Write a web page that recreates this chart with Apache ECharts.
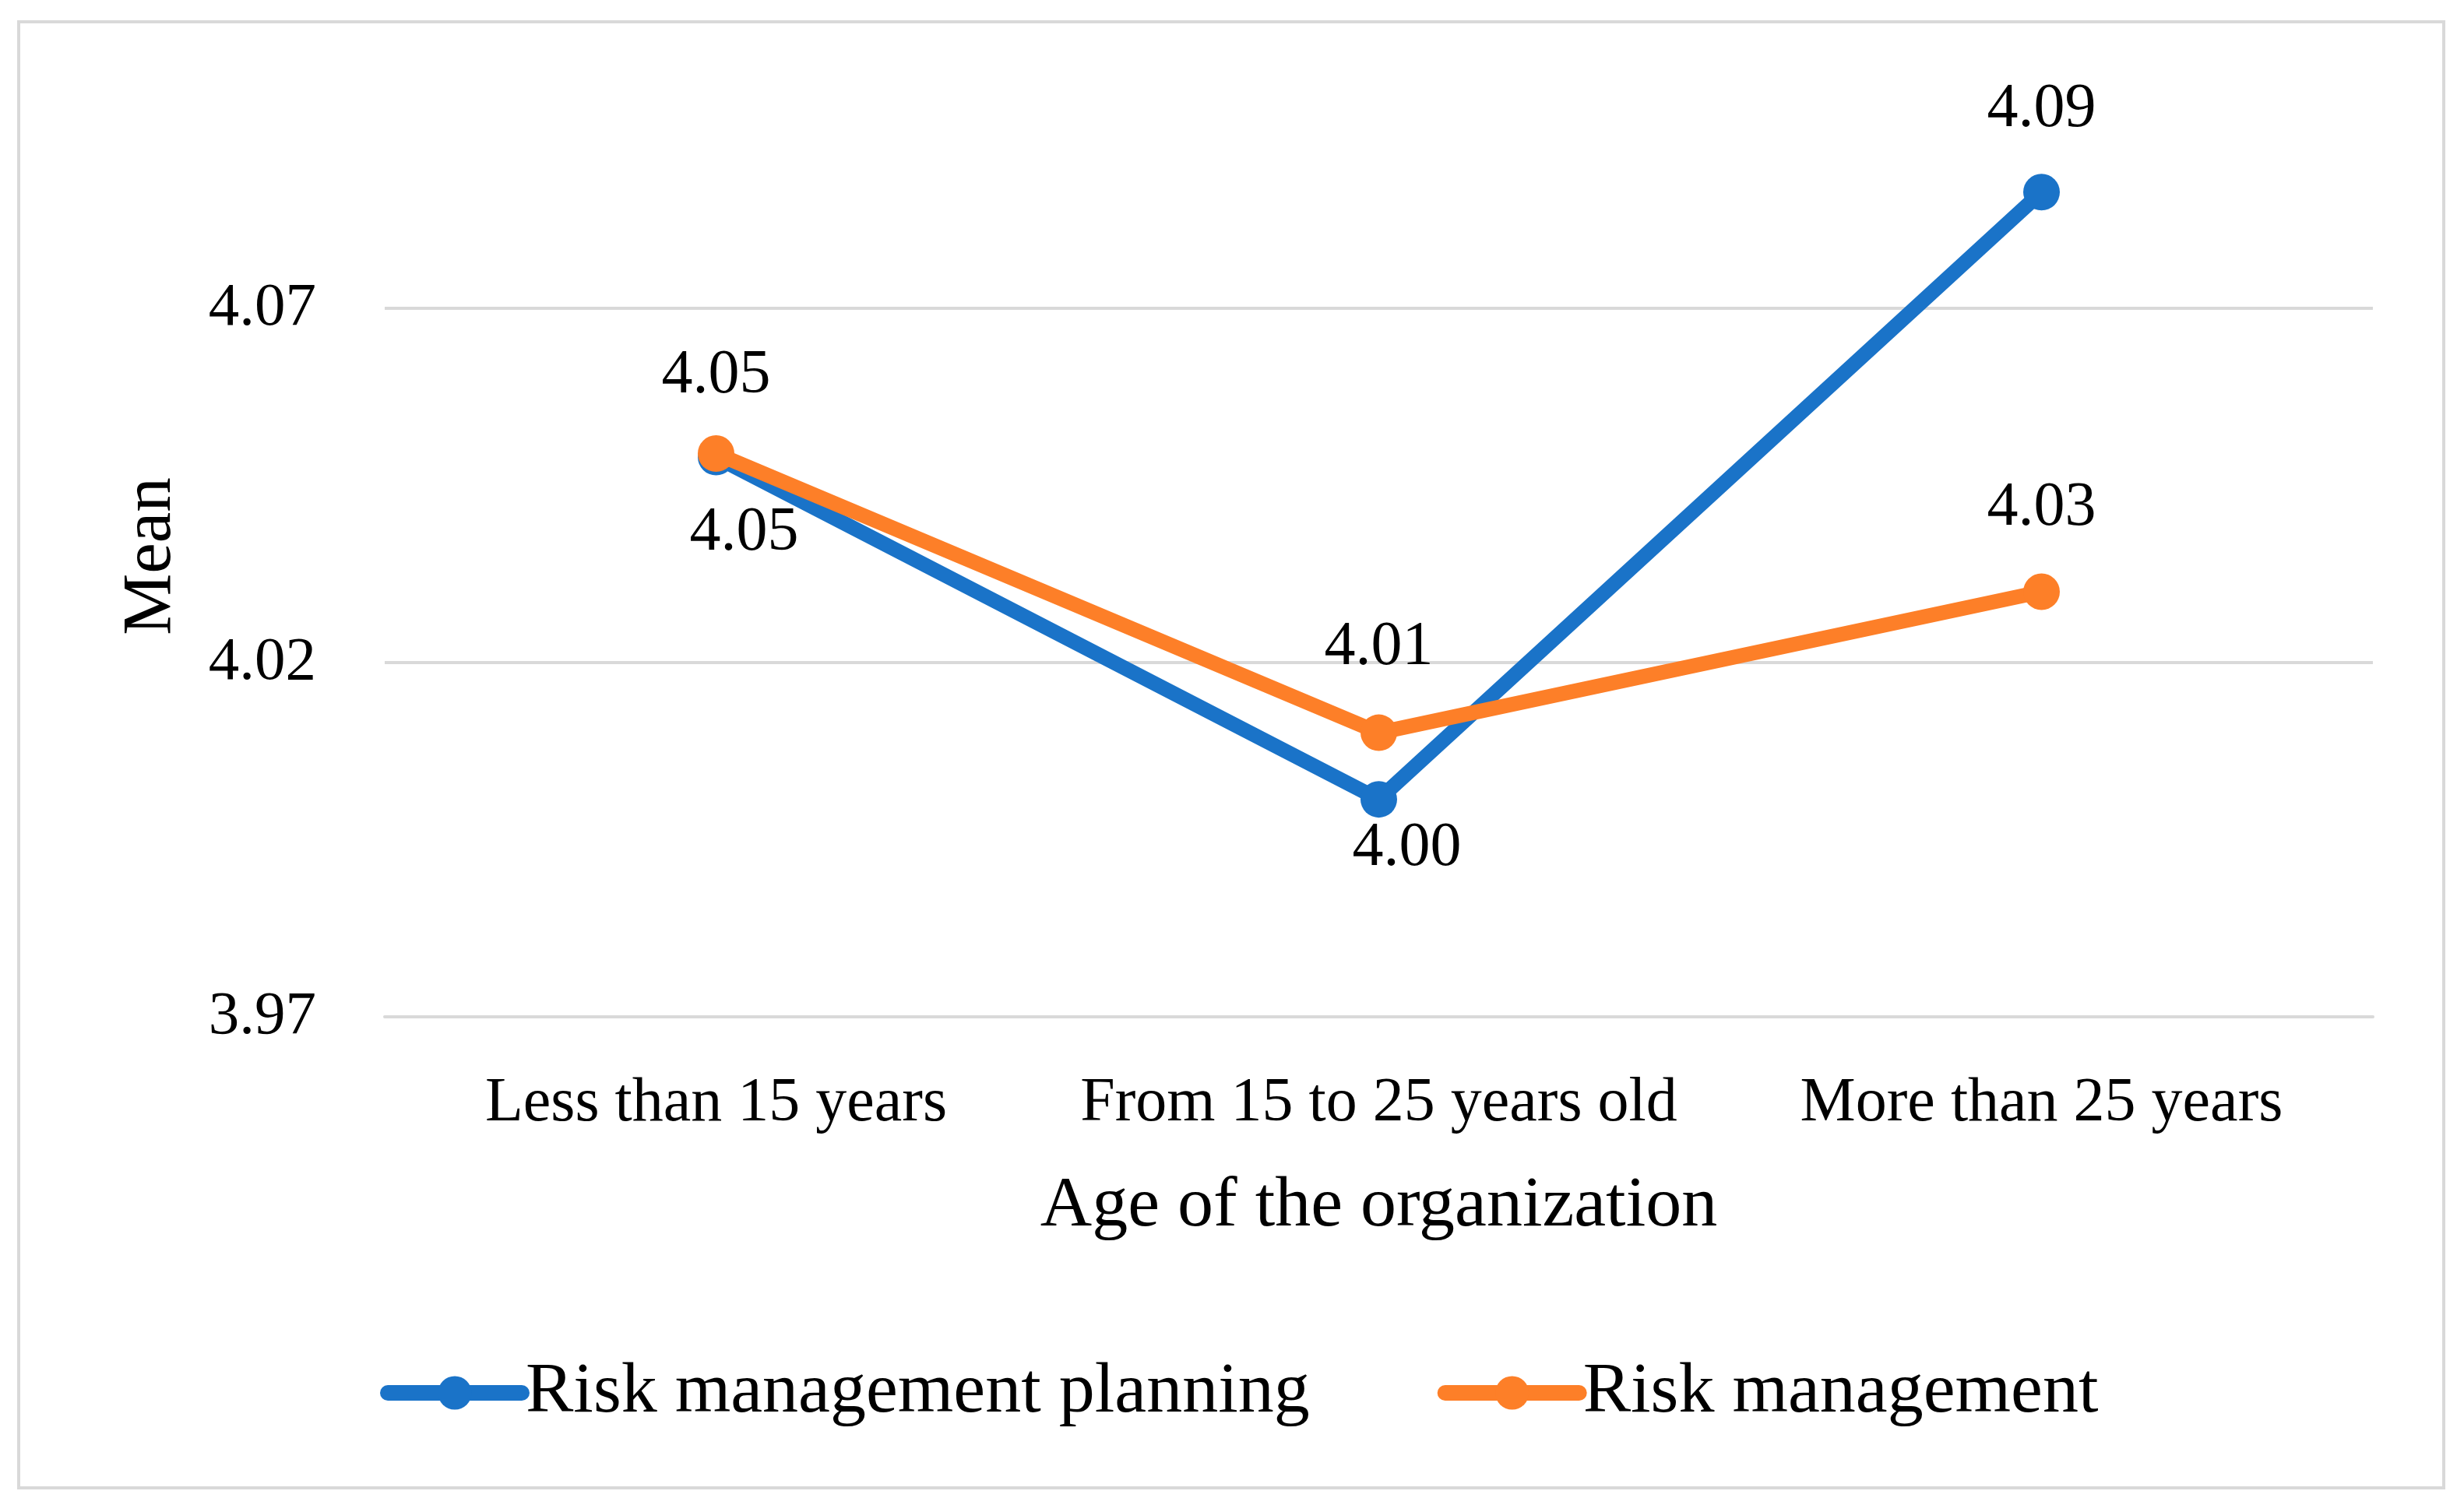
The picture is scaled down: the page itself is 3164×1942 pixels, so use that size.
<!DOCTYPE html>
<html>
<head>
<meta charset="utf-8">
<style>
  html, body { margin: 0; padding: 0; background: #ffffff; }
  #chart { width: 3164px; height: 1942px; }
</style>
<script src="https://cdn.jsdelivr.net/npm/echarts@6/dist/echarts.min.js"></script>
</head>
<body>
<div id="chart"></div>
<script>
const categories = ['Less than 15 years', 'From 15 to 25 years old', 'More than 25 years'];
const planningValues = [4.049, 4.0007, 4.0864];
const managementValues = [4.0495, 4.0101, 4.0300];
const yTicks = { min: 3.97, max: 4.10, interval: 0.05 };

const FONT = 'Liberation Serif';
const BLUE = '#1a73c8';
const ORANGE = '#fd7f28';
const GRID = '#d9d9d9';

const chart = echarts.init(document.getElementById('chart'), null, { renderer: 'canvas' });

const planningLabels = [
  { position: 'bottom', distance: 34, offset: [36, 0] },
  { position: 'bottom', distance: 0, offset: [36, 0] },
  { position: 'top', distance: 42, offset: [0, 0] }
];
const managementLabels = [
  { position: 'top', distance: 36, offset: [0, 0] },
  { position: 'top', distance: 46, offset: [0, 0] },
  { position: 'top', distance: 44, offset: [0, 0] }
];

function buildData(values, labels) {
  return values.map((v, i) => ({ value: v, label: labels[i] }));
}

const labelStyle = {
  show: true,
  fontFamily: FONT,
  fontSize: 80,
  color: '#000',
  formatter: p => p.value.toFixed(2)
};

chart.setOption({
  animation: false,
  backgroundColor: '#ffffff',
  graphic: [{
    type: 'rect',
    shape: { x: 24, y: 28, width: 3114, height: 1883 },
    style: { fill: 'none', stroke: GRID, lineWidth: 4 },
    silent: true
  }],
  grid: { left: 494, right: 117, top: 123, bottom: 636, containLabel: false },
  legend: {
    left: 483,
    top: 1738,
    itemWidth: 172,
    itemHeight: 54,
    itemGap: 164,
    lineStyle: { width: 20, cap: 'round' },
    textStyle: { fontFamily: FONT, fontSize: 92, color: '#000' },
    data: ['Risk management planning', 'Risk management']
  },
  xAxis: {
    type: 'category',
    data: categories,
    boundaryGap: true,
    name: 'Age of the organization',
    nameLocation: 'middle',
    nameGap: 198,
    nameTextStyle: { fontFamily: FONT, fontSize: 92, color: '#000', verticalAlign: 'top' },
    axisTick: { show: false },
    axisLine: { show: true, lineStyle: { color: GRID, width: 4 } },
    axisLabel: { interval: 0, fontFamily: FONT, fontSize: 80, color: '#000', margin: 72 }
  },
  yAxis: {
    type: 'value',
    min: yTicks.min,
    max: yTicks.max,
    interval: yTicks.interval,
    name: 'Mean',
    nameLocation: 'middle',
    nameGap: 255,
    nameRotate: 90,
    nameTextStyle: { fontFamily: FONT, fontSize: 89, color: '#000' },
    axisLine: { show: false },
    axisTick: { show: false },
    axisLabel: {
      fontFamily: FONT, fontSize: 79, color: '#000', margin: 88,
      showMaxLabel: false,
      formatter: v => v.toFixed(2)
    },
    splitLine: { show: true, lineStyle: { color: [GRID, GRID, GRID, 'rgba(0,0,0,0)'], width: 4 } }
  },
  series: [
    {
      name: 'Risk management planning',
      type: 'line',
      data: buildData(planningValues, planningLabels),
      symbol: 'circle',
      symbolSize: 47,
      lineStyle: { color: BLUE, width: 19, join: 'round' },
      itemStyle: { color: BLUE },
      label: labelStyle,
      z: 2
    },
    {
      name: 'Risk management',
      type: 'line',
      data: buildData(managementValues, managementLabels),
      symbol: 'circle',
      symbolSize: 47,
      lineStyle: { color: ORANGE, width: 19, join: 'round' },
      itemStyle: { color: ORANGE },
      label: labelStyle,
      z: 3
    }
  ]
});
</script>
</body>
</html>
